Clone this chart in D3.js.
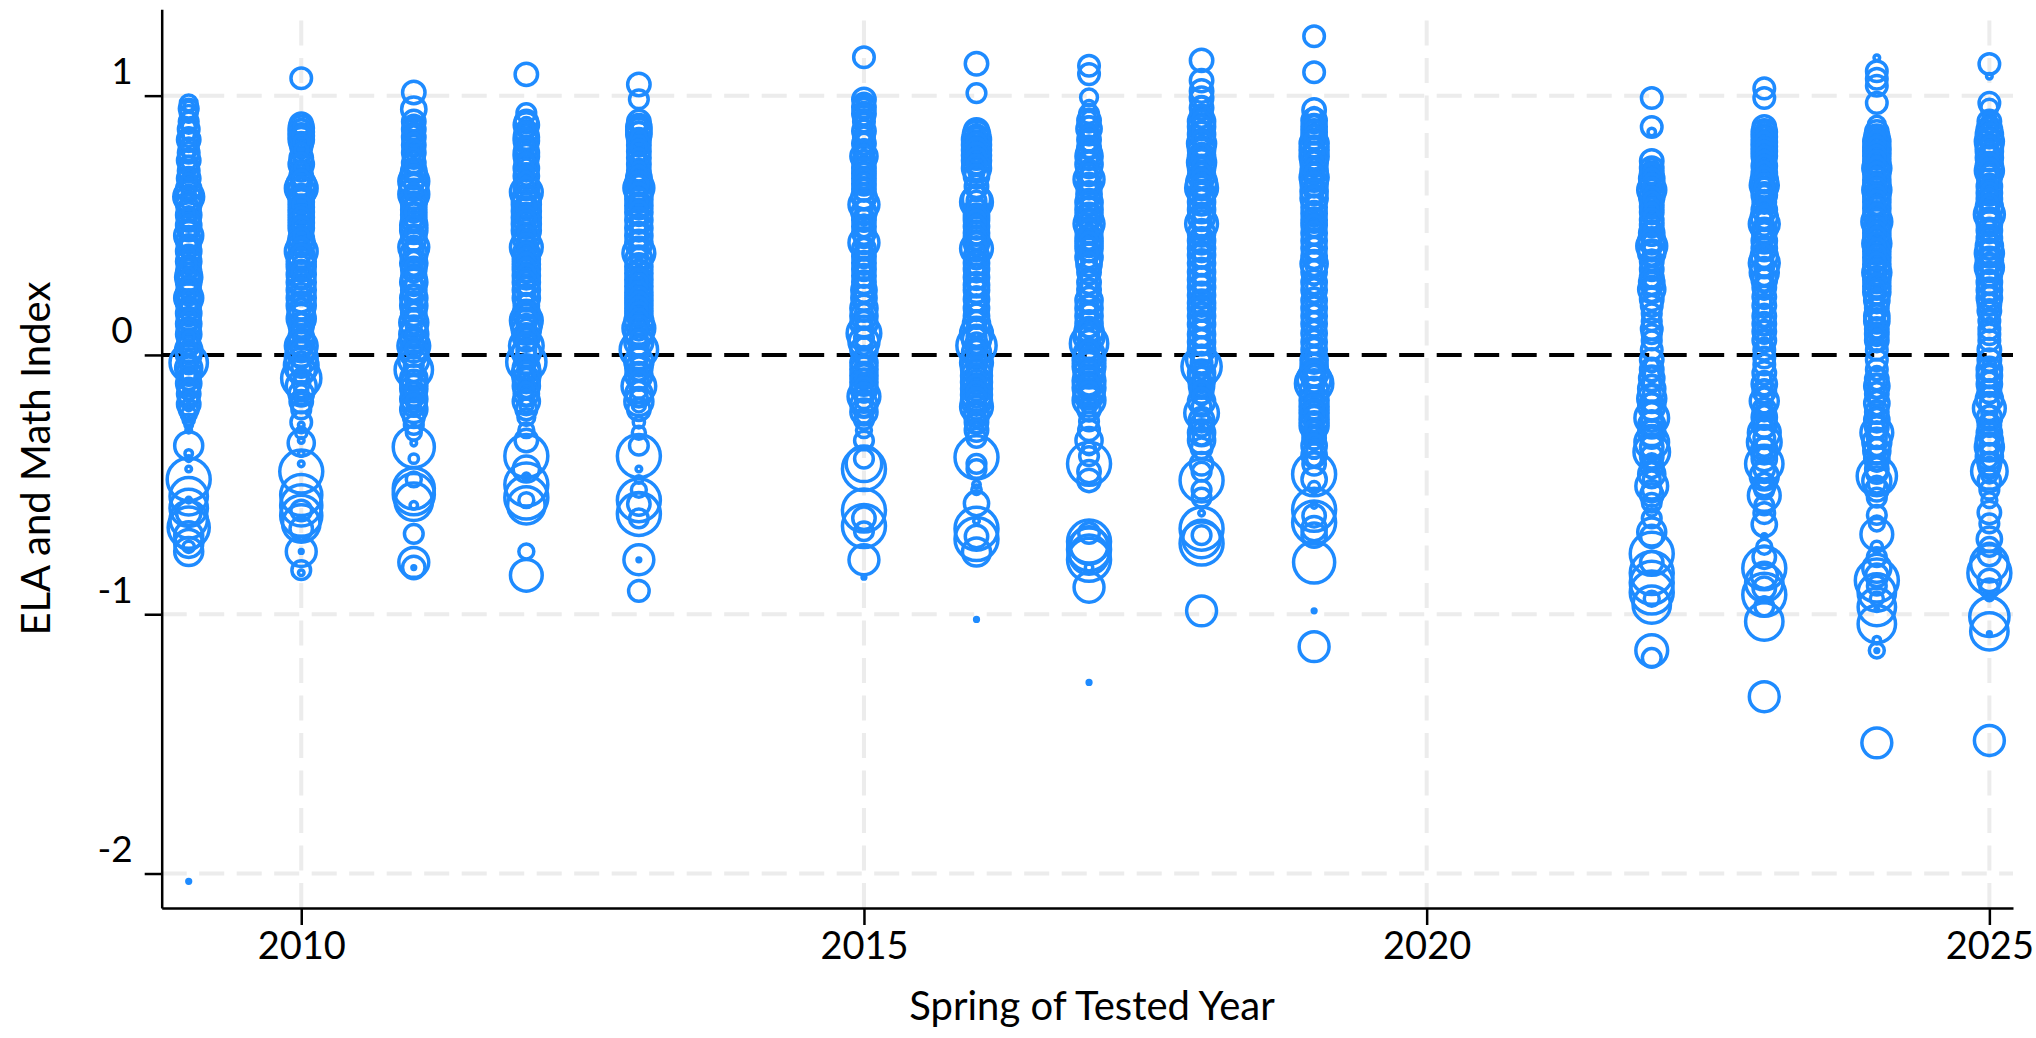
<!DOCTYPE html>
<html>
<head>
<meta charset="utf-8">
<script src="https://cdn.jsdelivr.net/npm/d3@7"></script>
<style>
  html, body { margin: 0; padding: 0; background: #ffffff; }
  svg { display: block; }
</style>
</head>
<body>
<svg id="chart" width="2036" height="1038"></svg>
<script>
// Tested years shown on the chart (no testing in 2014, 2020, 2021)
const years = [2009, 2010, 2011, 2012, 2013, 2015, 2016, 2017, 2018, 2019, 2022, 2023, 2024, 2025];

// Each entry: [ELA and Math index, number of students tested]
const scores2009 = [[0.97,81],[0.95,100],[0.93,81],[0.90,100],[0.87,121],[0.84,100],[0.83,144],[0.80,100],[0.78,121],[0.75,144],[0.73,100],[0.71,121],[0.68,144],[0.66,100],[0.64,169],[0.61,256],[0.60,196],[0.58,169],[0.56,144],[0.54,169],[0.52,144],[0.50,169],[0.48,121],[0.46,225],[0.44,169],[0.42,144],[0.40,169],[0.38,144],[0.36,169],[0.34,144],[0.32,169],[0.30,196],[0.28,169],[0.26,144],[0.24,169],[0.22,225],[0.20,169],[0.18,144],[0.16,169],[0.14,144],[0.12,169],[0.10,144],[0.08,169],[0.06,121],[0.04,144],[0.02,196],[0.00,169],[-0.03,400],[-0.05,196],[-0.07,169],[-0.09,144],[-0.11,169],[-0.13,121],[-0.15,144],[-0.17,100],[-0.19,144],[-0.21,100],[-0.23,64],[-0.25,36],[-0.27,16],[-0.29,9],[-0.35,225],[-0.38,16],[-0.40,9],[-0.44,9],[-0.48,529],[-0.545,400],[-0.56,9],[-0.59,400],[-0.61,169],[-0.635,400],[-0.666,484],[-0.697,225],[-0.727,225],[-0.74,36],[-0.758,225],[-2.03,4],
  [0.96,25],[0.92,36],[0.88,49],[0.85,36],[0.81,49],[0.77,36],[0.74,49],[0.70,36],[0.67,64],[0.63,49],[0.59,64],[0.55,36],[0.51,64],[0.47,49],[0.43,64],[0.39,36],[0.35,64],[0.31,49],[0.27,64],[0.23,36],[0.19,64],[0.15,49],[0.11,64],[0.07,36],[0.03,64],[-0.01,49],[-0.04,81],[-0.08,49],[-0.12,36],[-0.16,25],[-0.20,16]];
const scores2010 = [[1.067,121],[0.89,144],[0.875,169],[0.86,169],[0.845,169],[0.83,169],[0.815,144],[0.80,121],[0.78,100],[0.76,144],[0.735,169],[0.71,121],[0.69,144],[0.66,225],[0.643,289],[0.628,225],[0.61,169],[0.59,169],[0.57,169],[0.55,169],[0.53,169],[0.51,169],[0.49,169],[0.47,144],[0.45,169],[0.43,196],[0.40,289],[0.38,196],[0.36,225],[0.34,225],[0.31,225],[0.28,225],[0.25,225],[0.22,225],[0.19,225],[0.165,196],[0.14,225],[0.115,169],[0.095,144],[0.07,169],[0.05,196],[0.035,289],[0.01,225],[-0.01,289],[-0.04,324],[-0.06,225],[-0.09,441],[-0.12,256],[-0.15,169],[-0.18,144],[-0.21,100],[-0.26,121],[-0.27,9],[-0.30,36],[-0.33,9],[-0.34,196],[-0.38,9],[-0.42,9],[-0.45,529],[-0.54,484],[-0.58,484],[-0.60,121],[-0.62,484],[-0.65,400],[-0.67,144],[-0.758,256],[-0.758,4],[-0.83,100],[-0.84,9],
  [0.88,64],[0.85,81],[0.82,64],[0.79,49],[0.75,64],[0.72,49],[0.68,81],[0.65,100],[0.62,64],[0.58,81],[0.54,64],[0.50,81],[0.46,64],[0.42,81],[0.39,100],[0.35,81],[0.32,100],[0.29,81],[0.26,100],[0.23,81],[0.20,100],[0.17,81],[0.13,64],[0.10,81],[0.06,64],[0.02,100],[-0.02,81],[-0.05,100],[-0.08,64],[-0.11,81],[-0.14,49],[-0.17,36]];
const scores2011 = [[1.012,144],[0.948,169],[0.90,144],[0.885,121],[0.87,144],[0.855,121],[0.84,144],[0.825,121],[0.81,144],[0.78,144],[0.76,121],[0.74,144],[0.71,169],[0.69,196],[0.67,256],[0.65,225],[0.62,256],[0.60,196],[0.58,169],[0.56,169],[0.54,169],[0.52,169],[0.50,196],[0.48,196],[0.45,169],[0.415,256],[0.39,196],[0.355,196],[0.33,169],[0.30,169],[0.28,196],[0.25,169],[0.22,196],[0.19,196],[0.16,169],[0.125,225],[0.10,196],[0.08,225],[0.055,196],[0.035,289],[0.01,225],[-0.02,256],[-0.057,400],[-0.09,196],[-0.11,196],[-0.13,196],[-0.15,169],[-0.17,196],[-0.19,169],[-0.21,196],[-0.24,121],[-0.27,100],[-0.30,64],[-0.34,9],[-0.355,484],[-0.40,25],[-0.48,64],[-0.515,484],[-0.537,484],[-0.566,400],[-0.58,16],[-0.69,100],[-0.80,256],[-0.82,144],[-0.82,4],
  [0.89,49],[0.86,64],[0.83,49],[0.80,64],[0.77,49],[0.73,64],[0.70,81],[0.66,100],[0.63,81],[0.59,64],[0.55,81],[0.51,64],[0.47,81],[0.43,64],[0.40,100],[0.37,64],[0.34,81],[0.31,64],[0.27,81],[0.24,64],[0.21,81],[0.17,64],[0.14,81],[0.11,64],[0.07,81],[0.045,100],[0.02,81],[-0.04,100],[-0.07,81],[-0.10,64],[-0.14,81],[-0.18,64],[-0.20,49]];
const scores2012 = [[1.082,144],[0.933,100],[0.90,144],[0.887,169],[0.86,144],[0.84,169],[0.826,169],[0.80,144],[0.78,169],[0.765,169],[0.74,144],[0.72,169],[0.69,169],[0.665,144],[0.645,169],[0.628,289],[0.60,225],[0.58,225],[0.555,225],[0.53,225],[0.505,225],[0.48,225],[0.45,196],[0.415,289],[0.39,196],[0.37,196],[0.35,196],[0.33,196],[0.305,196],[0.28,196],[0.25,196],[0.22,196],[0.19,169],[0.16,196],[0.133,289],[0.115,256],[0.095,225],[0.07,196],[0.035,324],[0.01,225],[-0.027,441],[-0.05,196],[-0.072,225],[-0.095,196],[-0.12,196],[-0.15,169],[-0.18,196],[-0.21,121],[-0.24,81],[-0.29,64],[-0.33,144],[-0.39,529],[-0.44,196],[-0.47,16],[-0.50,529],[-0.55,529],[-0.56,64],[-0.58,400],[-0.758,64],[-0.85,289],
  [0.89,49],[0.87,64],[0.85,49],[0.81,64],[0.79,49],[0.75,64],[0.73,49],[0.70,64],[0.68,49],[0.655,64],[0.615,100],[0.59,81],[0.57,100],[0.54,81],[0.52,100],[0.49,81],[0.465,81],[0.43,100],[0.40,81],[0.38,81],[0.36,81],[0.34,81],[0.315,81],[0.29,81],[0.265,81],[0.235,81],[0.205,64],[0.175,81],[0.145,100],[0.12,100],[0.105,81],[0.08,81],[0.05,100],[0.02,100],[-0.01,121],[-0.04,81],[-0.06,81],[-0.085,81],[-0.11,64],[-0.135,64],[-0.165,64],[-0.195,49]];
const scores2013 = [[1.043,144],[0.986,100],[0.90,144],[0.88,169],[0.865,169],[0.85,169],[0.83,144],[0.81,144],[0.785,144],[0.76,144],[0.735,144],[0.71,144],[0.685,169],[0.664,196],[0.644,256],[0.62,196],[0.60,196],[0.575,196],[0.55,196],[0.52,196],[0.49,196],[0.46,196],[0.43,196],[0.393,289],[0.37,196],[0.34,196],[0.315,196],[0.29,196],[0.265,196],[0.24,196],[0.22,196],[0.20,196],[0.18,196],[0.16,196],[0.13,225],[0.103,289],[0.08,225],[0.05,225],[0.02,400],[-0.027,225],[-0.05,196],[-0.08,196],[-0.12,324],[-0.15,196],[-0.18,225],[-0.21,144],[-0.26,36],[-0.30,49],[-0.35,100],[-0.39,529],[-0.44,9],[-0.48,16],[-0.52,64],[-0.56,529],[-0.575,144],[-0.613,529],[-0.63,100],[-0.79,256],[-0.79,4],[-0.91,121],
  [0.89,64],[0.87,64],[0.84,64],[0.82,49],[0.80,64],[0.77,49],[0.75,64],[0.72,49],[0.70,64],[0.675,81],[0.655,100],[0.63,81],[0.61,81],[0.59,81],[0.56,81],[0.535,81],[0.505,81],[0.475,81],[0.445,81],[0.41,100],[0.38,81],[0.355,81],[0.33,81],[0.30,81],[0.28,81],[0.25,81],[0.23,81],[0.21,81],[0.19,81],[0.17,81],[0.145,81],[0.115,100],[0.09,81],[0.065,81],[0.035,100],[0.00,100],[-0.04,81],[-0.065,81],[-0.10,100],[-0.135,81],[-0.165,81],[-0.195,49]];
const scores2015 = [[1.148,121],[0.985,144],[0.97,121],[0.955,144],[0.93,144],[0.90,121],[0.864,144],[0.84,121],[0.815,144],[0.79,121],[0.766,196],[0.745,144],[0.72,144],[0.70,144],[0.68,144],[0.66,144],[0.64,144],[0.61,169],[0.58,256],[0.55,169],[0.52,144],[0.495,144],[0.47,144],[0.433,256],[0.41,144],[0.38,144],[0.355,144],[0.33,144],[0.305,144],[0.28,144],[0.25,169],[0.22,169],[0.18,196],[0.15,196],[0.12,196],[0.084,324],[0.05,256],[0.02,196],[-0.03,196],[-0.055,196],[-0.08,196],[-0.105,196],[-0.13,196],[-0.16,289],[-0.19,196],[-0.22,196],[-0.25,100],[-0.29,64],[-0.33,100],[-0.40,100],[-0.42,361],[-0.44,529],[-0.60,529],[-0.63,144],[-0.66,529],[-0.68,100],[-0.79,256],[-0.857,4],
  [0.98,49],[0.96,64],[0.94,49],[0.915,64],[0.88,49],[0.85,64],[0.83,49],[0.80,64],[0.78,64],[0.755,81],[0.73,64],[0.71,64],[0.69,64],[0.67,64],[0.65,64],[0.625,81],[0.595,100],[0.565,81],[0.535,64],[0.51,64],[0.485,64],[0.45,100],[0.42,64],[0.395,64],[0.37,64],[0.34,64],[0.32,64],[0.29,64],[0.265,81],[0.235,81],[0.20,81],[0.165,81],[0.135,81],[0.10,100],[0.065,100],[0.035,81],[0.00,81],[-0.04,81],[-0.07,81],[-0.09,81],[-0.12,81],[-0.145,100],[-0.175,81],[-0.205,81],[-0.235,64]];
const scores2016 = [[1.123,144],[1.01,100],[0.864,169],[0.85,196],[0.83,225],[0.81,225],[0.79,225],[0.77,225],[0.75,225],[0.72,225],[0.69,169],[0.65,144],[0.60,225],[0.59,289],[0.555,169],[0.535,169],[0.52,169],[0.495,169],[0.47,169],[0.45,169],[0.43,169],[0.41,289],[0.38,169],[0.355,169],[0.33,169],[0.30,169],[0.27,169],[0.25,169],[0.215,169],[0.18,169],[0.15,169],[0.12,196],[0.084,289],[0.06,225],[0.036,441],[0.01,225],[-0.03,289],[-0.055,256],[-0.08,256],[-0.105,256],[-0.13,256],[-0.155,256],[-0.175,256],[-0.20,289],[-0.23,169],[-0.26,144],[-0.29,144],[-0.32,100],[-0.395,529],[-0.42,100],[-0.44,100],[-0.50,16],[-0.52,25],[-0.573,169],[-0.64,9],[-0.67,529],[-0.70,144],[-0.71,529],[-0.76,225],[-1.02,4],
  [0.86,64],[0.84,100],[0.82,100],[0.80,100],[0.78,100],[0.76,100],[0.735,100],[0.705,64],[0.67,49],[0.625,64],[0.595,100],[0.57,81],[0.545,81],[0.525,81],[0.505,81],[0.48,81],[0.46,81],[0.44,81],[0.42,100],[0.395,81],[0.365,81],[0.34,81],[0.315,81],[0.285,81],[0.26,81],[0.23,81],[0.20,81],[0.165,81],[0.135,81],[0.10,100],[0.07,100],[0.045,121],[0.02,100],[-0.01,100],[-0.045,100],[-0.07,100],[-0.095,100],[-0.115,100],[-0.14,100],[-0.165,100],[-0.19,100],[-0.215,81],[-0.245,64],[-0.275,49]];
const scores2017 = [[1.115,121],[1.083,121],[0.993,81],[0.96,36],[0.93,100],[0.904,144],[0.872,169],[0.85,121],[0.83,144],[0.80,144],[0.78,169],[0.766,196],[0.734,196],[0.70,169],[0.677,256],[0.65,169],[0.62,169],[0.588,196],[0.56,196],[0.535,196],[0.506,256],[0.48,196],[0.45,196],[0.43,196],[0.41,196],[0.377,196],[0.35,169],[0.32,144],[0.28,144],[0.25,144],[0.21,196],[0.18,196],[0.15,196],[0.12,196],[0.09,225],[0.07,256],[0.044,400],[0.003,256],[-0.02,289],[-0.045,289],[-0.07,256],[-0.10,289],[-0.127,289],[-0.15,256],[-0.175,289],[-0.21,144],[-0.256,100],[-0.29,121],[-0.33,196],[-0.36,49],[-0.39,100],[-0.42,529],[-0.45,144],[-0.484,144],[-0.687,121],[-0.72,529],[-0.735,400],[-0.75,529],[-0.77,441],[-0.79,529],[-0.82,16],[-0.896,256],[-1.263,4],
  [0.915,49],[0.89,64],[0.86,49],[0.84,64],[0.815,64],[0.79,64],[0.75,81],[0.72,81],[0.69,81],[0.665,100],[0.635,81],[0.605,81],[0.575,81],[0.55,81],[0.52,100],[0.49,81],[0.465,81],[0.44,81],[0.42,81],[0.395,81],[0.365,64],[0.335,64],[0.30,64],[0.265,64],[0.23,81],[0.195,81],[0.165,81],[0.135,81],[0.105,100],[0.08,100],[0.055,121],[0.02,100],[-0.01,121],[-0.03,121],[-0.06,100],[-0.085,121],[-0.115,121],[-0.14,100],[-0.16,121],[-0.19,81],[-0.23,49]];
const scores2018 = [[1.136,144],[1.058,144],[1.018,144],[0.99,144],[0.953,144],[0.92,144],[0.90,196],[0.88,196],[0.85,196],[0.815,225],[0.79,196],[0.765,196],[0.742,225],[0.72,196],[0.69,196],[0.665,256],[0.644,289],[0.62,196],[0.59,196],[0.56,196],[0.53,196],[0.506,289],[0.47,196],[0.44,196],[0.41,196],[0.385,196],[0.355,196],[0.32,196],[0.29,196],[0.26,196],[0.23,196],[0.20,196],[0.18,196],[0.15,196],[0.117,196],[0.08,196],[0.05,196],[0.02,196],[-0.02,256],[-0.045,441],[-0.07,196],[-0.094,196],[-0.12,169],[-0.143,144],[-0.18,196],[-0.224,324],[-0.25,169],[-0.27,144],[-0.30,196],[-0.33,196],[-0.36,121],[-0.42,144],[-0.45,100],[-0.484,529],[-0.52,100],[-0.55,100],[-0.61,9],[-0.67,529],[-0.695,100],[-0.71,400],[-0.727,529],[-0.987,256],
  [0.97,49],[0.935,64],[0.91,81],[0.89,81],[0.865,81],[0.83,100],[0.80,81],[0.78,81],[0.755,100],[0.73,81],[0.705,81],[0.68,100],[0.655,121],[0.63,81],[0.605,81],[0.575,81],[0.545,81],[0.52,100],[0.49,81],[0.455,81],[0.425,81],[0.395,81],[0.37,81],[0.34,81],[0.305,81],[0.275,81],[0.245,81],[0.215,81],[0.19,81],[0.165,81],[0.135,81],[0.10,81],[0.065,81],[0.035,81],[0.00,100],[-0.03,121],[-0.06,81],[-0.08,81],[-0.105,64],[-0.13,64],[-0.16,81],[-0.20,100],[-0.24,64],[-0.285,64],[-0.315,81]];
const scores2019 = [[1.229,121],[1.09,121],[0.945,144],[0.904,169],[0.88,169],[0.86,169],[0.84,169],[0.815,225],[0.79,225],[0.765,225],[0.74,196],[0.71,196],[0.685,225],[0.66,196],[0.63,196],[0.604,196],[0.57,169],[0.545,169],[0.52,169],[0.50,169],[0.47,169],[0.44,169],[0.41,169],[0.38,169],[0.352,196],[0.32,169],[0.28,169],[0.25,169],[0.21,169],[0.18,169],[0.15,169],[0.12,169],[0.084,169],[0.05,169],[0.02,169],[-0.02,196],[-0.045,196],[-0.07,225],[-0.094,324],[-0.11,400],[-0.14,225],[-0.175,225],[-0.20,225],[-0.224,225],[-0.25,225],[-0.273,225],[-0.30,144],[-0.32,144],[-0.35,169],[-0.386,169],[-0.42,144],[-0.46,529],[-0.48,169],[-0.51,36],[-0.58,9],[-0.597,529],[-0.62,144],[-0.646,529],[-0.67,169],[-0.695,169],[-0.80,484],[-0.987,4],[-1.125,256],
  [0.925,64],[0.89,81],[0.87,81],[0.85,81],[0.83,100],[0.80,100],[0.78,100],[0.75,81],[0.725,81],[0.70,100],[0.67,81],[0.645,81],[0.615,81],[0.585,64],[0.56,64],[0.535,64],[0.51,64],[0.485,64],[0.455,64],[0.425,64],[0.395,64],[0.365,81],[0.335,64],[0.30,64],[0.265,64],[0.23,64],[0.195,64],[0.165,64],[0.135,64],[0.10,64],[0.065,64],[0.035,64],[0.00,81],[-0.03,81],[-0.06,100],[-0.08,121],[-0.10,144],[-0.125,100],[-0.16,100],[-0.19,100],[-0.21,100],[-0.235,100],[-0.26,100],[-0.285,81],[-0.31,64],[-0.335,64],[-0.37,64],[-0.40,64]];
const scores2022 = [[0.991,121],[0.879,121],[0.86,16],[0.748,144],[0.72,144],[0.70,144],[0.68,169],[0.66,169],[0.636,225],[0.61,169],[0.59,144],[0.57,144],[0.55,144],[0.52,144],[0.50,144],[0.47,169],[0.44,196],[0.42,256],[0.393,196],[0.36,144],[0.33,144],[0.30,144],[0.28,169],[0.252,196],[0.215,144],[0.19,121],[0.16,100],[0.13,100],[0.10,121],[0.08,100],[0.056,100],[0.02,121],[-0.019,144],[-0.056,144],[-0.09,169],[-0.13,196],[-0.168,225],[-0.20,196],[-0.243,324],[-0.27,196],[-0.30,196],[-0.337,324],[-0.374,361],[-0.393,144],[-0.43,144],[-0.46,196],[-0.505,289],[-0.54,144],[-0.57,100],[-0.60,36],[-0.63,100],[-0.683,225],[-0.70,144],[-0.767,529],[-0.80,144],[-0.841,529],[-0.879,529],[-0.916,529],[-0.94,64],[-0.963,400],[-1.14,289],[-1.168,100],
  [0.73,49],[0.71,64],[0.69,64],[0.67,64],[0.65,81],[0.62,64],[0.60,64],[0.58,49],[0.56,49],[0.535,64],[0.51,49],[0.485,64],[0.455,81],[0.43,100],[0.405,81],[0.375,64],[0.345,49],[0.315,49],[0.29,64],[0.265,81],[0.235,64],[-0.04,49],[-0.075,64],[-0.11,81],[-0.15,81],[-0.185,100],[-0.22,100],[-0.255,121],[-0.285,81],[-0.32,121],[-0.355,144],[-0.41,64],[-0.445,64],[-0.48,81],[-0.52,100]];
const scores2023 = [[1.028,121],[0.991,121],[0.879,144],[0.86,169],[0.841,169],[0.82,169],[0.804,169],[0.785,169],[0.767,169],[0.748,144],[0.729,169],[0.70,169],[0.675,196],[0.654,225],[0.636,169],[0.617,169],[0.59,144],[0.56,169],[0.53,196],[0.505,256],[0.48,169],[0.467,144],[0.44,169],[0.41,169],[0.38,196],[0.355,256],[0.318,225],[0.29,169],[0.26,144],[0.224,144],[0.19,144],[0.15,144],[0.12,144],[0.09,144],[0.056,144],[0.02,121],[-0.01,121],[-0.037,121],[-0.07,144],[-0.112,169],[-0.14,144],[-0.178,225],[-0.21,144],[-0.24,169],[-0.27,169],[-0.30,289],[-0.337,324],[-0.37,196],[-0.40,169],[-0.42,400],[-0.467,225],[-0.50,144],[-0.542,289],[-0.58,100],[-0.61,121],[-0.654,169],[-0.70,9],[-0.74,64],[-0.78,144],[-0.823,529],[-0.85,196],[-0.879,400],[-0.90,144],[-0.925,529],[-0.944,9],[-0.97,100],[-1.028,400],[-1.318,256],
  [0.87,64],[0.85,64],[0.83,64],[0.81,64],[0.795,64],[0.775,64],[0.757,64],[0.74,64],[0.715,64],[0.69,81],[0.665,81],[0.645,100],[0.625,64],[0.605,64],[0.575,49],[0.545,64],[0.52,81],[0.49,64],[0.455,64],[0.425,64],[0.395,64],[0.37,81],[0.34,100],[0.30,81],[0.275,64],[0.24,49],[0.205,49],[0.17,49],[0.135,49],[0.105,49],[0.07,49],[0.04,49],[-0.09,49],[-0.125,64],[-0.16,81],[-0.195,64],[-0.225,64],[-0.255,64],[-0.285,100],[-0.32,121],[-0.355,100],[-0.385,64],[-0.44,121],[-0.485,64],[-0.52,100]];
const scores2024 = [[1.146,9],[1.094,121],[1.065,121],[1.038,121],[0.972,121],[0.888,81],[0.86,144],[0.84,169],[0.823,196],[0.80,196],[0.785,196],[0.767,196],[0.745,196],[0.72,225],[0.70,196],[0.675,196],[0.655,196],[0.636,225],[0.61,196],[0.59,196],[0.565,196],[0.54,196],[0.514,256],[0.49,196],[0.47,196],[0.45,196],[0.43,225],[0.40,196],[0.375,196],[0.35,196],[0.318,225],[0.29,196],[0.265,196],[0.243,196],[0.21,169],[0.18,144],[0.15,169],[0.131,169],[0.10,144],[0.08,144],[0.056,144],[0.02,121],[-0.02,121],[-0.056,121],[-0.093,144],[-0.12,169],[-0.15,144],[-0.187,169],[-0.22,144],[-0.25,169],[-0.28,144],[-0.30,289],[-0.337,225],[-0.37,196],[-0.40,169],[-0.44,144],[-0.467,441],[-0.486,225],[-0.52,144],[-0.55,100],[-0.617,100],[-0.65,64],[-0.692,289],[-0.74,36],[-0.78,100],[-0.823,225],[-0.85,144],[-0.87,529],[-0.89,100],[-0.916,400],[-0.94,49],[-0.972,400],[-0.982,4],[-1.038,400],[-1.10,16],[-1.14,64],[-1.14,4],[-1.496,256],
  [0.85,64],[0.83,81],[0.81,81],[0.79,81],[0.775,81],[0.755,81],[0.73,81],[0.71,81],[0.69,81],[0.665,81],[0.645,100],[0.62,81],[0.60,81],[0.575,81],[0.55,81],[0.525,100],[0.50,81],[0.48,81],[0.46,81],[0.44,81],[0.415,81],[0.39,81],[0.36,81],[0.335,81],[0.305,81],[0.28,81],[0.255,81],[0.225,64],[0.195,49],[0.165,64],[0.14,64],[0.115,49],[0.09,49],[0.07,49],[0.04,49],[-0.07,49],[-0.105,64],[-0.135,64],[-0.17,64],[-0.205,49],[-0.235,64],[-0.265,64],[-0.29,81],[-0.32,100],[-0.355,81],[-0.385,81],[-0.42,64],[-0.455,121],[-0.50,81]];
const scores2025 = [[1.122,121],[1.075,9],[0.972,121],[0.954,81],[0.90,144],[0.87,169],[0.85,196],[0.823,225],[0.80,196],[0.785,196],[0.76,196],[0.73,196],[0.71,225],[0.69,169],[0.673,144],[0.65,169],[0.625,169],[0.60,169],[0.57,196],[0.542,256],[0.52,169],[0.505,169],[0.48,169],[0.45,169],[0.42,196],[0.393,225],[0.365,196],[0.337,225],[0.31,169],[0.28,169],[0.25,169],[0.22,169],[0.196,144],[0.17,144],[0.131,121],[0.10,121],[0.08,121],[0.056,121],[0.02,144],[-0.02,144],[-0.056,169],[-0.08,169],[-0.112,169],[-0.14,144],[-0.17,196],[-0.206,289],[-0.243,169],[-0.27,144],[-0.30,169],[-0.33,196],[-0.355,225],[-0.393,196],[-0.42,144],[-0.449,361],[-0.486,144],[-0.52,100],[-0.56,64],[-0.608,144],[-0.65,100],[-0.71,169],[-0.74,100],[-0.77,144],[-0.804,400],[-0.841,529],[-0.87,144],[-0.90,100],[-0.93,25],[-1.01,441],[-1.066,400],[-1.075,4],[-1.487,256],
  [0.91,49],[0.885,64],[0.86,81],[0.835,100],[0.81,81],[0.79,81],[0.77,81],[0.745,81],[0.72,100],[0.70,81],[0.66,64],[0.635,64],[0.61,64],[0.585,81],[0.555,100],[0.53,81],[0.49,64],[0.465,64],[0.435,81],[0.405,100],[0.38,81],[0.35,100],[0.32,81],[0.295,64],[0.265,64],[0.235,64],[0.21,49],[0.18,49],[0.15,49],[0.115,49],[-0.04,49],[-0.07,64],[-0.095,64],[-0.125,64],[-0.155,81],[-0.19,100],[-0.225,64],[-0.255,64],[-0.285,64],[-0.315,81],[-0.345,100],[-0.375,81],[-0.405,64],[-0.435,121],[-0.465,64]];

const scoresList = [scores2009, scores2010, scores2011, scores2012, scores2013, scores2015, scores2016, scores2017, scores2018, scores2019, scores2022, scores2023, scores2024, scores2025];

// Axis ticks and titles
const xTickValues = [2010, 2015, 2020, 2025];
const yTickValues = [1, 0, -1, -2];
const xTitle = "Spring of Tested Year";
const yTitle = "ELA and Math Index";

// Flatten into one record per school-year bubble
const points = [];
years.forEach((yr, i) => {
  scoresList[i].forEach(([index, n]) => points.push({ year: yr, index, n }));
});

const width = 2036, height = 1038;
const plot = { left: 161.7, right: 2013, top: 9.3, bottom: 908 };
const font = "Lato, 'Open Sans', sans-serif";
const blue = "#1e8bff";

const x = d3.scaleLinear().domain([2008.76, 2025.21]).range([plot.left, plot.right]);
const y = d3.scaleLinear().domain([-2.133, 1.333]).range([plot.bottom, plot.top]);
const r = d3.scaleSqrt().domain([0, 529]).range([0, 21.5]);

const svg = d3.select("#chart");
svg.append("rect").attr("width", width).attr("height", height).attr("fill", "#ffffff");

// Light dashed grid
const grid = svg.append("g");
grid.selectAll("line.vg").data(xTickValues).join("line")
  .attr("x1", d => x(d)).attr("x2", d => x(d))
  .attr("y1", plot.bottom).attr("y2", plot.top)
  .attr("stroke", "#ececec").attr("stroke-width", 4)
  .attr("stroke-dasharray", "25,12.5");
grid.selectAll("line.hg").data(yTickValues.filter(d => d !== 0)).join("line")
  .attr("x1", plot.left).attr("x2", plot.right)
  .attr("y1", d => y(d)).attr("y2", d => y(d))
  .attr("stroke", "#ececec").attr("stroke-width", 4)
  .attr("stroke-dasharray", "25,12.5");

// Reference line at zero
svg.append("line")
  .attr("x1", plot.left).attr("x2", plot.right)
  .attr("y1", y(0)).attr("y2", y(0))
  .attr("stroke", "#000").attr("stroke-width", 4)
  .attr("stroke-dasharray", "25,12.5");

// Bubbles: hollow circles sized by students tested
svg.append("g").selectAll("circle").data(points).join("circle")
  .attr("cx", d => x(d.year))
  .attr("cy", d => y(d.index))
  .attr("r", d => r(d.n))
  .attr("fill", "none")
  .attr("stroke", blue)
  .attr("stroke-width", 3.5);

// Axes
const xAxis = svg.append("g")
  .attr("transform", `translate(0,${plot.bottom})`)
  .call(d3.axisBottom(x).tickValues(xTickValues).tickSize(17).tickSizeOuter(0).tickFormat(d => String(d)));
xAxis.select(".domain").attr("stroke", "#000").attr("stroke-width", 2.5);
xAxis.selectAll(".tick line").attr("stroke", "#000").attr("stroke-width", 2.5);
xAxis.selectAll(".tick text")
  .attr("y", 51).attr("dy", 0)
  .attr("font-family", font).attr("font-size", 38).attr("fill", "#000");

const yAxis = svg.append("g")
  .attr("transform", `translate(${plot.left},0)`)
  .call(d3.axisLeft(y).tickValues(yTickValues).tickSize(17).tickSizeOuter(0).tickFormat(d => String(d)));
yAxis.select(".domain").attr("stroke", "#000").attr("stroke-width", 2.5);
yAxis.selectAll(".tick line").attr("stroke", "#000").attr("stroke-width", 2.5);
yAxis.selectAll(".tick text")
  .attr("x", -29).attr("y", -12).attr("dy", 0)
  .attr("font-family", font).attr("font-size", 37).attr("fill", "#000");

// Axis titles
svg.append("text")
  .attr("x", 1092).attr("y", 1020)
  .attr("text-anchor", "middle")
  .attr("font-family", font).attr("font-size", 40).attr("fill", "#000")
  .text(xTitle);

svg.append("text")
  .attr("transform", `translate(50,${(plot.top + plot.bottom) / 2}) rotate(-90)`)
  .attr("text-anchor", "middle")
  .attr("font-family", font).attr("font-size", 40).attr("fill", "#000")
  .text(yTitle);
</script>
</body>
</html>
